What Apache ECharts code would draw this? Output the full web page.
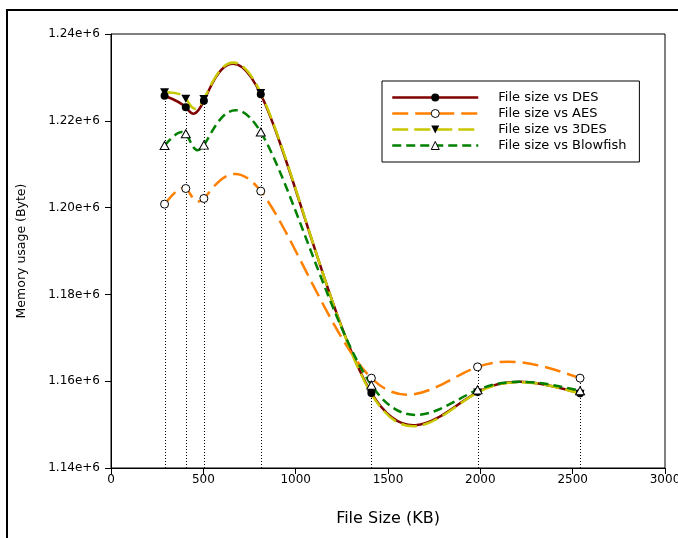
<!DOCTYPE html>
<html><head><meta charset="utf-8">
<script src="https://cdn.jsdelivr.net/npm/echarts@6/dist/echarts.min.js"></script>
<style>html,body{margin:0;padding:0;background:#fff}#c{width:678px;height:538px}</style>
</head><body><div id="c"></div>
<script>
// ---- data ----
const fileSizes   = [290, 405, 503, 811, 1410, 1985, 2540];
const desMem      = [1225780, 1223100, 1224600, 1226100, 1157300, 1157500, 1157200];
const aesMem      = [1200800, 1204400, 1202100, 1203800, 1160700, 1163300, 1160700];
const tdesMem     = [1226600, 1225100, 1225000, 1226400, 1157100, 1157400, 1157100];
const blowfishMem = [1214300, 1217000, 1214400, 1217400, 1159100, 1158000, 1157800];
const seriesNames = ['File size vs DES', 'File size vs AES', 'File size vs 3DES', 'File size vs Blowfish'];
const xTickMin = 0, xTickMax = 3000, xTickStep = 500;
const yTickMin = 1140000, yTickMax = 1240000, yTickStep = 20000;

const FONT = 'DejaVu Sans';
const styles = [
  {color:'#800000', dash:'solid', width:2.5, symbol:'circle', size:8, fill:'#000', border:'#000', bw:0},
  {color:'#FF8000', dash:[16,7], width:2.5, symbol:'circle', size:8, fill:'#fff', border:'#000', bw:1},
  {color:'#C8C800', dash:[16,6], width:2.5, symbol:'path://M0,0L10,0L5,9Z', size:[9,8], fill:'#000', border:'#000', bw:0},
  {color:'#008000', dash:[9,5], width:2.5, symbol:'triangle', size:[9,8], fill:'#fff', border:'#000', bw:1}
];
const allMem = [desMem, aesMem, tdesMem, blowfishMem];

// natural cubic spline second derivatives, uniform parameter
function spline2nd(v){
  const n=v.length, M=new Array(n).fill(0), cp=[], dp=[];
  if(n<3) return M;
  for(let i=1;i<n-1;i++){
    const rhs=6*(v[i+1]-2*v[i]+v[i-1]);
    if(i===1){cp[i]=0.25; dp[i]=rhs/4;}
    else{const den=4-cp[i-1]; cp[i]=1/den; dp[i]=(rhs-dp[i-1])/den;}
  }
  for(let i=n-2;i>=1;i--) M[i]=dp[i]-cp[i]*M[i+1];
  return M;
}
function splineDeriv(v){
  const n=v.length, M=spline2nd(v), D=[];
  for(let i=0;i<n-1;i++) D[i]=v[i+1]-v[i]-(2*M[i]+M[i+1])/6;
  D[n-1]=v[n-1]-v[n-2]+(M[n-2]+2*M[n-1])/6;
  return D;
}

const series = [];
// drop lines (one per file size, from the highest point down to the axis)
series.push({
  type:'custom', silent:true, z:1, clip:false,
  data: fileSizes.map((x,i)=>[x, Math.max(...allMem.map(m=>m[i]))]),
  renderItem:function(params, api){
    const top = api.coord([api.value(0), api.value(1)]);
    const bot = api.coord([api.value(0), yTickMin]);
    const px = Math.round(top[0]) + 0.5;
    return {type:'line', shape:{x1:px, y1:Math.round(bot[1]), x2:px, y2:top[1]},
      style:{stroke:'#000', lineWidth:1, lineDash:[1,2]}};
  }
});
// spline curves
allMem.forEach((mem, s)=>{
  const st = styles[s];
  const Dx = splineDeriv(fileSizes), Dy = splineDeriv(mem);
  series.push({
    type:'custom', silent:true, z:2+s*0.1, clip:false,
    data: fileSizes.map((x,i)=>[x, mem[i]]),
    renderItem:function(params, api){
      if(params.dataIndex!==0) return null;
      const n=fileSizes.length;
      let p=api.coord([fileSizes[0], mem[0]]);
      let d='M'+p[0]+' '+p[1];
      for(let i=0;i<n-1;i++){
        const c1=api.coord([fileSizes[i]+Dx[i]/3, mem[i]+Dy[i]/3]);
        const c2=api.coord([fileSizes[i+1]-Dx[i+1]/3, mem[i+1]-Dy[i+1]/3]);
        const e=api.coord([fileSizes[i+1], mem[i+1]]);
        d+=' C'+c1[0]+' '+c1[1]+' '+c2[0]+' '+c2[1]+' '+e[0]+' '+e[1];
      }
      return {type:'path', shape:{pathData:d},
        style:{fill:'none', stroke:st.color, lineWidth:st.width, lineDash:st.dash==='solid'?null:st.dash}};
    }
  });
});
// markers (legend entries)
allMem.forEach((mem, s)=>{
  const st = styles[s];
  series.push({
    type:'line', name:seriesNames[s], z:5, silent:true,
    data: fileSizes.map((x,i)=>[x, mem[i]]),
    symbol:st.symbol, symbolSize:st.size, showSymbol:true,
    itemStyle:{color:st.fill, borderColor:st.border, borderWidth:st.bw},
    lineStyle:{opacity:0, color:st.color}
  });
});

const chart = echarts.init(document.getElementById('c'), null, {renderer:'canvas'});
chart.setOption({
  animation:false,
  backgroundColor:'#fff',
  grid:{left:111, right:13, top:34, bottom:70, show:true, borderColor:'#000', borderWidth:1,
    outerBoundsMode:'none', containLabel:false},
  xAxis:{type:'value', min:xTickMin, max:xTickMax, interval:xTickStep,
    name:'File Size (KB)', nameLocation:'middle', nameGap:43,
    nameTextStyle:{fontFamily:FONT, fontSize:16, color:'#000'},
    axisLine:{show:true, lineStyle:{color:'#000', width:1}},
    axisTick:{show:true, length:6, lineStyle:{color:'#000'}},
    splitLine:{show:false},
    axisLabel:{margin:6, fontFamily:FONT, fontSize:12, color:'#000', formatter:v=>String(v)}},
  yAxis:{type:'value', min:yTickMin, max:yTickMax, interval:yTickStep,
    name:'Memory usage (Byte)', nameLocation:'middle', nameGap:83,
    nameTextStyle:{fontFamily:FONT, fontSize:12.5, color:'#000'},
    axisLine:{show:true, lineStyle:{color:'#000', width:1}},
    axisTick:{show:true, length:6, lineStyle:{color:'#000'}},
    splitLine:{show:false},
    axisLabel:{margin:11, fontFamily:FONT, fontSize:12, color:'#000',
      formatter:v=>(v/1e6).toFixed(2)+'e+6'}},
  legend:{orient:'vertical', left:382, top:81, padding:[9,13,9,9],
    itemWidth:86, itemHeight:10, itemGap:1, borderColor:'#000', borderWidth:1,
    textStyle:{fontFamily:FONT, fontSize:13, color:'#000', lineHeight:15, padding:[0,0,0,15]},
    data: seriesNames.map((nm,s)=>({name:nm,
      itemStyle:{borderWidth:styles[s].bw},
      lineStyle:{color:styles[s].color, width:styles[s].width, type:styles[s].dash, opacity:1}}))},
  graphic:[{type:'rect', silent:true, shape:{x:7, y:10, width:720, height:620},
    style:{fill:null, stroke:'#000', lineWidth:2}}],
  series:series
});
</script></body></html>
